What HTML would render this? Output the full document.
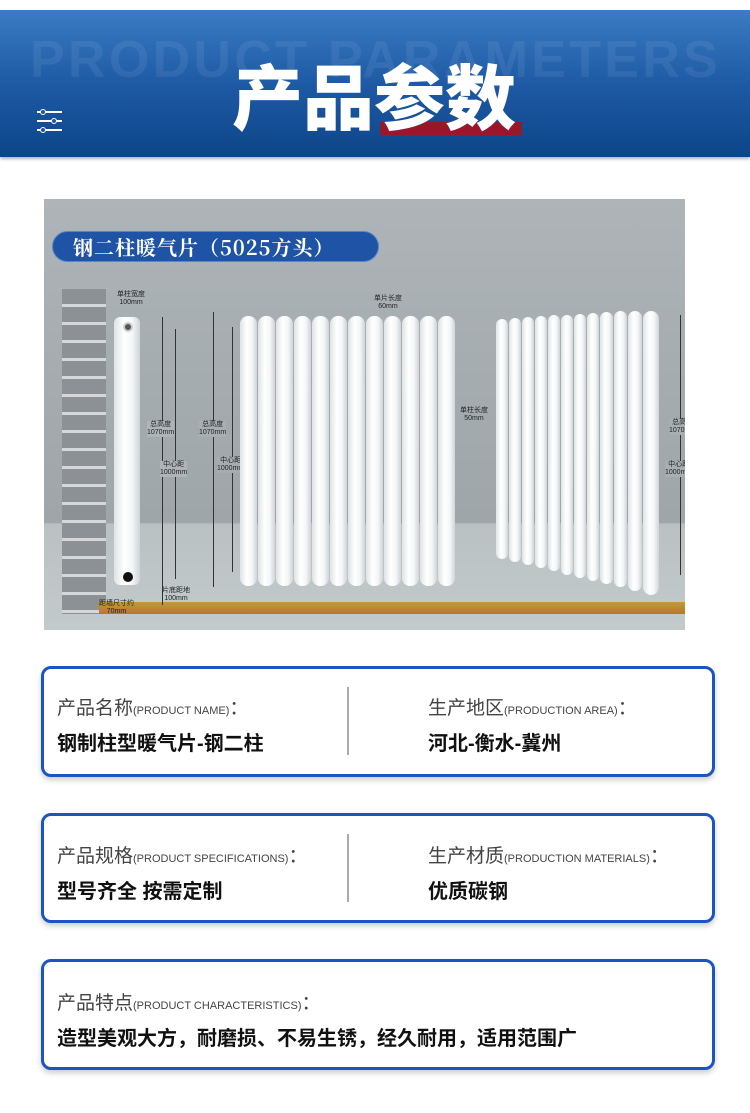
<!DOCTYPE html>
<html><head><meta charset="utf-8"><style>
*{margin:0;padding:0;box-sizing:border-box}
body{width:750px;height:1113px;background:#fff;position:relative;overflow:hidden;font-family:"Liberation Sans","Noto Sans CJK SC",sans-serif}
.a{position:absolute}
.hdr{left:0;top:10px;width:750px;height:147px;background:linear-gradient(#3b7cc3,#1e5aa5 50%,#0c4588);box-shadow:0 2px 3px rgba(0,0,0,.3)}
.bgtxt{left:30px;top:30px;font:bold 52px "Liberation Sans",sans-serif;color:rgba(255,255,255,.07);letter-spacing:3.3px;white-space:nowrap}
.ttl{left:232px;top:54px;font:900 71px "Noto Sans CJK SC",sans-serif;color:#fff;letter-spacing:0;line-height:80px;white-space:nowrap}
.red{left:380px;top:122px;width:142px;height:13px;background:#98182a}
.ic{left:37px;width:25px;height:2px;background:#fff}
.ic i{position:absolute;top:-2px;width:6px;height:6px;border:1.5px solid #fff;border-radius:50%;background:#1d58a0}
.photo{left:44px;top:199px;width:641px;height:431px;background:linear-gradient(#aeb4b7,#9ea6aa 75%,#b9c1c3 75.5%,#c2cacb);overflow:hidden}
.pill{left:8px;top:32px;width:327px;height:31px;border-radius:16px;background:#1f53a5;border:1px solid #5a86c8;color:#fff;font:bold 20px "Noto Serif CJK SC",serif;line-height:29px;padding-left:20px;letter-spacing:1px;white-space:nowrap}
.wood{left:55px;top:403px;width:590px;height:12px;background:linear-gradient(#c8963e,#b07a2c)}
.brick{left:18px;top:90px;width:44px;height:325px;background:repeating-linear-gradient(#8c9196 0 15px,#d5d7d8 15px 18px)}
.col{position:absolute;background:linear-gradient(90deg,#dfe3e6,#fff 40%,#f4f6f7 70%,#cfd4d8);border-radius:8px}
.lbl{position:absolute;font-size:7px;color:#222;text-align:center;line-height:8px;white-space:nowrap}
.dl{position:absolute;background:#333}
.card{left:41px;width:674px;border:3px solid #1b55c2;border-radius:10px;background:#fff;box-shadow:0 3px 6px rgba(0,0,0,.2)}
.k{position:absolute;font-size:19px;color:#444;white-space:nowrap}
.k small{font-size:11px}
.v{position:absolute;font-size:20px;font-weight:bold;color:#111;white-space:nowrap}
.sep{position:absolute;left:303px;width:2px;background:#aaa}
</style></head><body>
<div class="a hdr"></div>
<div class="a bgtxt">PRODUCT PARAMETERS</div>
<div class="a red"></div>
<div class="a ttl">产品参数</div>
<div class="a ic" style="top:111px"><i style="left:3px"></i></div>
<div class="a ic" style="top:120px"><i style="left:14px"></i></div>
<div class="a ic" style="top:129px"><i style="left:3px"></i></div>

<div class="a photo">
 <div class="a pill">钢二柱暖气片（5025方头）</div>
 <div class="a brick"></div>
 <div class="a wood"></div>
 <div class="col" style="left:70px;top:118px;width:26px;height:268px;border-radius:6px"></div>
 <div class="a" style="left:79px;top:123px;width:10px;height:10px;border-radius:50%;background:#555;border:2px solid #ccc"></div>
 <div class="a" style="left:79px;top:373px;width:10px;height:10px;border-radius:50%;background:#111"></div>
 <div class="lbl" style="left:73px;top:92px">单柱宽度<br>100mm</div>
 <div class="dl" style="left:118px;top:118px;width:1px;height:288px"></div>
 <div class="dl" style="left:131px;top:130px;width:1px;height:250px"></div>
 <div class="lbl" style="left:103px;top:222px;background:#aeb4b7">总高度<br>1070mm</div>
 <div class="lbl" style="left:116px;top:262px;background:#aeb4b7">中心距<br>1000mm</div>
 <div class="lbl" style="left:118px;top:388px">片底距地<br>100mm</div>
 <div class="lbl" style="left:55px;top:401px">距墙尺寸约<br>70mm</div>
 <div class="dl" style="left:169px;top:113px;width:1px;height:275px"></div>
 <div class="dl" style="left:188px;top:128px;width:1px;height:245px"></div>
 <div class="lbl" style="left:155px;top:222px;background:#a8afb2">总高度<br>1070mm</div>
 <div class="lbl" style="left:173px;top:258px;background:#a6adb0">中心距<br>1000mm</div>
 <div class="lbl" style="left:330px;top:96px">单片长度<br>60mm</div>
 <div class="lbl" style="left:416px;top:208px">单柱长度<br>50mm</div>
 <div class="a" style="left:0;top:0">
  <div class="col" style="left:196px;top:117px;width:17px;height:270px"></div>
  <div class="col" style="left:214px;top:117px;width:17px;height:270px"></div>
  <div class="col" style="left:232px;top:117px;width:17px;height:270px"></div>
  <div class="col" style="left:250px;top:117px;width:17px;height:270px"></div>
  <div class="col" style="left:268px;top:117px;width:17px;height:270px"></div>
  <div class="col" style="left:286px;top:117px;width:17px;height:270px"></div>
  <div class="col" style="left:304px;top:117px;width:17px;height:270px"></div>
  <div class="col" style="left:322px;top:117px;width:17px;height:270px"></div>
  <div class="col" style="left:340px;top:117px;width:17px;height:270px"></div>
  <div class="col" style="left:358px;top:117px;width:17px;height:270px"></div>
  <div class="col" style="left:376px;top:117px;width:17px;height:270px"></div>
  <div class="col" style="left:394px;top:117px;width:17px;height:270px"></div>
 </div>
 <div class="col" style="left:452px;top:120px;width:12px;height:240px"></div>
 <div class="col" style="left:465px;top:119px;width:12px;height:244px"></div>
 <div class="col" style="left:478px;top:118px;width:12px;height:248px"></div>
 <div class="col" style="left:491px;top:117px;width:12px;height:252px"></div>
 <div class="col" style="left:504px;top:116px;width:12px;height:256px"></div>
 <div class="col" style="left:517px;top:116px;width:12px;height:260px"></div>
 <div class="col" style="left:530px;top:115px;width:12px;height:264px"></div>
 <div class="col" style="left:543px;top:114px;width:12px;height:268px"></div>
 <div class="col" style="left:556px;top:113px;width:13px;height:272px"></div>
 <div class="col" style="left:570px;top:112px;width:13px;height:276px"></div>
 <div class="col" style="left:584px;top:112px;width:14px;height:280px"></div>
 <div class="col" style="left:599px;top:112px;width:16px;height:284px"></div>
 <div class="dl" style="left:636px;top:116px;width:1px;height:260px"></div>
 <div class="lbl" style="left:625px;top:220px;background:#a8afb2">总高度<br>1070mm</div>
 <div class="lbl" style="left:621px;top:262px;background:#a8afb2">中心距<br>1000mm</div>
</div>

<div class="a card" style="top:666px;height:111px">
 <div class="k" style="left:13px;top:24px">产品名称<small>(PRODUCT NAME)</small>：</div>
 <div class="v" style="left:13px;top:58px">钢制柱型暖气片-钢二柱</div>
 <div class="sep" style="top:18px;height:68px"></div>
 <div class="k" style="left:384px;top:24px">生产地区<small>(PRODUCTION AREA)</small>：</div>
 <div class="v" style="left:384px;top:58px">河北-衡水-冀州</div>
</div>
<div class="a card" style="top:813px;height:110px">
 <div class="k" style="left:13px;top:25px">产品规格<small>(PRODUCT SPECIFICATIONS)</small>：</div>
 <div class="v" style="left:13px;top:59px">型号齐全 按需定制</div>
 <div class="sep" style="top:18px;height:68px"></div>
 <div class="k" style="left:384px;top:25px">生产材质<small>(PRODUCTION MATERIALS)</small>：</div>
 <div class="v" style="left:384px;top:59px">优质碳钢</div>
</div>
<div class="a card" style="top:959px;height:111px">
 <div class="k" style="left:13px;top:26px">产品特点<small>(PRODUCT CHARACTERISTICS)</small>：</div>
 <div class="v" style="left:13px;top:60px">造型美观大方，耐磨损、不易生锈，经久耐用，适用范围广</div>
</div>
</body></html>
